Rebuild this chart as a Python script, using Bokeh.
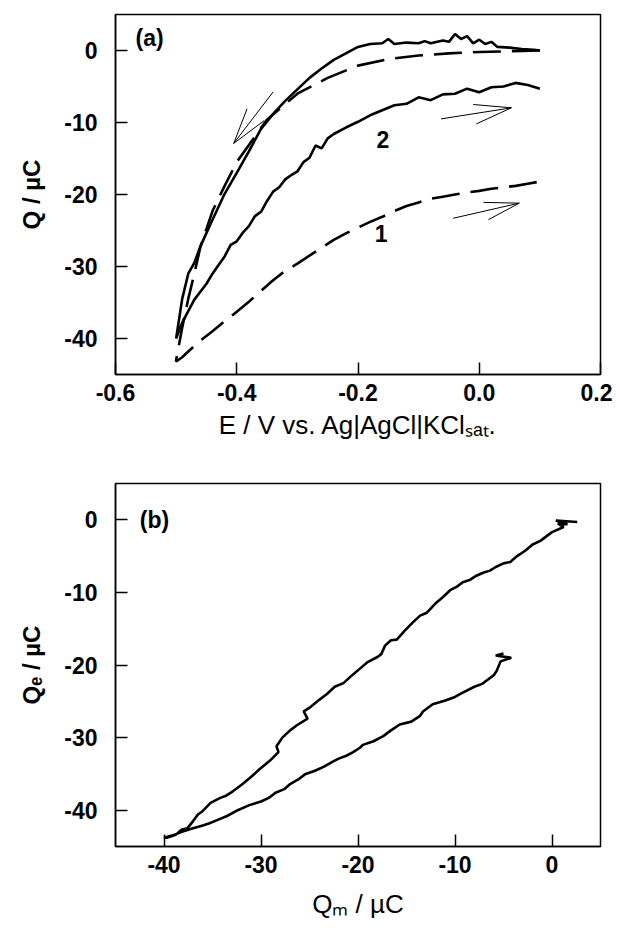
from bokeh.plotting import figure
from bokeh.layouts import column
from bokeh.models import Label, FixedTicker
from bokeh.embed import file_html
from bokeh.resources import INLINE

# ---------------- Panel (a) data: Q vs E ----------------
# solid loop, cathodic scan (0.1 -> -0.5 V)
E_solid_down = [0.10, 0.09, 0.07, 0.05, 0.03, 0.02, 0.01, 0.00, -0.01, -0.02, -0.03, -0.04,
                -0.05, -0.06, -0.08, -0.09, -0.10, -0.12, -0.14, -0.15, -0.16, -0.18, -0.20,
                -0.22, -0.24, -0.26, -0.28, -0.30, -0.32, -0.34, -0.36, -0.38, -0.40, -0.42,
                -0.44, -0.46, -0.47, -0.48, -0.49, -0.50]
Q_solid_down = [0.0, 0.1, 0.2, 0.4, 0.5, 1.2, 0.9, 1.5, 1.0, 2.0, 1.6, 2.3,
                1.2, 1.4, 1.0, 1.3, 1.0, 1.1, 0.9, 1.6, 1.0, 0.9, 0.5,
                -0.4, -1.3, -2.5, -3.8, -5.4, -7.0, -8.8, -10.9, -14.0, -17.0, -19.9,
                -23.5, -27.2, -29.5, -31.0, -34.5, -40.0]
# solid curve 2, anodic scan (-0.5 -> 0.1 V)
E_solid_up = [-0.50, -0.49, -0.48, -0.47, -0.46, -0.45, -0.44, -0.43, -0.42, -0.41, -0.40,
              -0.39, -0.38, -0.37, -0.36, -0.35, -0.34, -0.33, -0.32, -0.31, -0.30, -0.29,
              -0.28, -0.27, -0.26, -0.25, -0.24, -0.22, -0.20, -0.18, -0.16, -0.14, -0.12,
              -0.10, -0.08, -0.06, -0.04, -0.02, 0.00, 0.02, 0.04, 0.06, 0.08, 0.10]
Q_solid_up = [-40.0, -37.8, -36.2, -34.6, -33.5, -32.4, -31.0, -29.8, -28.6, -27.0, -26.5,
              -25.3, -24.4, -23.0, -22.4, -20.9, -19.6, -19.0, -17.9, -17.3, -16.8, -15.5,
              -14.9, -13.2, -13.6, -12.2, -11.6, -10.7, -9.9, -9.0, -8.3, -7.6, -7.4,
              -6.5, -6.9, -6.1, -6.0, -5.3, -5.8, -5.1, -5.0, -4.5, -4.8, -5.3]
# dashed loop, cathodic scan
E_dash_down = [0.10, 0.05, 0.00, -0.05, -0.10, -0.15, -0.20, -0.25, -0.30, -0.35, -0.40,
               -0.42, -0.44, -0.46, -0.47, -0.48, -0.49, -0.50]
Q_dash_down = [0.0, -0.1, -0.2, -0.4, -0.7, -1.2, -2.1, -3.8, -6.0, -9.6, -15.5,
               -18.8, -22.3, -27.3, -31.0, -34.5, -38.5, -43.0]
# dashed curve 1, anodic scan
E_dash_up = [-0.50, -0.49, -0.48, -0.46, -0.44, -0.42, -0.40, -0.38, -0.36, -0.34, -0.32,
             -0.30, -0.28, -0.26, -0.24, -0.22, -0.20, -0.18, -0.16, -0.14, -0.12, -0.10,
             -0.08, -0.06, -0.04, -0.02, 0.00, 0.02, 0.04, 0.06, 0.08, 0.10]
Q_dash_up = [-43.2, -42.6, -41.8, -40.3, -39.0, -37.6, -36.3, -34.9, -33.4, -31.9, -30.6,
             -29.6, -28.5, -27.4, -26.3, -25.4, -24.6, -23.8, -23.1, -22.3, -21.6, -21.1,
             -20.6, -20.3, -20.0, -19.7, -19.5, -19.2, -19.0, -18.8, -18.5, -18.2]

# scan-direction arrows (E, Q)
arrow_tail_E = [-0.340, -0.063, -0.043]
arrow_tail_Q = [-5.75, -9.5, -23.3]
arrow_tip_E = [-0.405, 0.053, 0.066]
arrow_tip_Q = [-12.9, -7.96, -21.2]
arrow_head1_E = [-0.383, -0.010, 0.007]
arrow_head1_Q = [-8.1, -7.5, -21.1]
arrow_head2_E = [-0.355, -0.005, 0.015]
arrow_head2_Q = [-9.75, -10.2, -23.5]

curve_label_text = ["1", "2"]
curve_label_E = [-0.162, -0.159]
curve_label_Q = [-25.4, -12.3]
panel_a_label = "(a)"
panel_a_label_pos = (-0.567, 1.7)

a_xticks = [-0.6, -0.4, -0.2, 0.0, 0.2]
a_xtick_labels = ["-0.6", "-0.4", "-0.2", "0.0", "0.2"]
a_yticks = [0, -10, -20, -30, -40]
a_ytick_labels = ["0", "-10", "-20", "-30", "-40"]
a_xtitle = "E / V vs. Ag|AgCl|KCl\u209b\u2090\u209c."
a_ytitle = "Q / µC"

# ---------------- Panel (b) data: Qe vs Qm ----------------
Qm_cath = [2.6, 0.4, 1.6, 0.6, 1.2, 0.0, -1.2, -2.0, -2.8, -3.6, -4.3, -5.0, -5.8, -6.4, -7.1,
           -7.8, -8.5, -9.2, -9.8, -10.5, -11.2, -12.0, -12.9, -13.6, -14.4, -15.2, -16.0,
           -16.6, -17.2, -17.6, -18.0, -19.0, -19.8, -20.6, -21.5, -22.4, -23.2, -24.0, -24.9,
           -25.6, -25.2, -26.3, -27.0, -27.8, -28.4, -28.2, -29.1, -30.1, -31.0, -32.0, -32.9,
           -33.6, -34.2, -35.2, -36.0, -36.5, -37.0, -37.6, -38.2, -38.8, -39.7, -40.0]
Qe_cath = [-0.3, -0.1, -0.6, -0.5, -1.0, -1.7, -2.9, -3.4, -4.3, -5.0, -5.8, -6.0, -6.5, -7.0, -7.3,
           -7.7, -8.3, -8.6, -9.2, -9.7, -10.6, -11.5, -12.8, -13.2, -14.2, -15.3, -16.5,
           -16.6, -17.3, -18.5, -18.9, -19.6, -20.5, -21.4, -22.5, -23.0, -24.0, -24.8, -25.8,
           -26.4, -27.4, -28.3, -29.0, -30.0, -31.2, -32.0, -33.2, -34.3, -35.4, -36.5, -37.4,
           -38.0, -38.3, -39.0, -40.1, -40.6, -41.5, -42.5, -42.7, -43.4, -43.8, -43.8]
Qm_anod = [-40.0, -39.0, -38.0, -37.0, -36.0, -35.3, -34.4, -33.5, -32.4, -31.2, -30.0, -29.2,
           -28.5, -27.6, -27.0, -26.2, -25.4, -24.5, -23.5, -22.6, -22.0, -21.2, -20.5, -19.8,
           -19.5, -18.4, -17.4, -16.6, -15.7, -14.5, -13.6, -13.3, -12.3, -11.0, -10.0, -9.5,
           -8.0, -7.2, -6.7, -6.0, -5.7, -5.3, -4.2, -5.8, -5.0]
Qe_anod = [-43.8, -43.4, -42.9, -42.5, -42.1, -41.8, -41.3, -40.8, -40.0, -39.3, -38.8, -38.3,
           -37.6, -37.1, -36.4, -35.8, -35.0, -34.6, -34.0, -33.3, -32.9, -32.5, -32.0, -31.4,
           -31.0, -30.5, -29.8, -29.0, -28.2, -27.8, -27.0, -26.4, -25.4, -24.9, -24.4, -24.0,
           -23.0, -22.6, -22.1, -21.4, -20.8, -19.5, -19.0, -18.7, -18.4]
panel_b_label = "(b)"
panel_b_label_pos = (-42.5, 0.0)

b_xticks = [-40, -30, -20, -10, 0]
b_xtick_labels = ["-40", "-30", "-20", "-10", "0"]
b_yticks = [0, -10, -20, -30, -40]
b_ytick_labels = ["0", "-10", "-20", "-30", "-40"]
b_xtitle = "Q\u2098 / µC"
b_ytitle = "Q\u2091 / µC"

# ---------------- styling ----------------
FONT = "Liberation Sans"
W = 612
L_BORDER, R_BORDER = 115, 12


def style(p, xticks, xlabels, yticks, ylabels, xtitle, ytitle, xtitle_standoff):
    p.xgrid.visible = False
    p.ygrid.visible = False
    p.outline_line_color = "black"
    p.outline_line_width = 1.5
    p.background_fill_color = "white"
    p.border_fill_color = "white"
    p.xaxis.ticker = FixedTicker(ticks=xticks)
    p.yaxis.ticker = FixedTicker(ticks=yticks)
    p.xaxis.major_label_overrides = {t: l for t, l in zip(xticks, xlabels)}
    p.yaxis.major_label_overrides = {t: l for t, l in zip(yticks, ylabels)}
    for ax in (p.xaxis[0], p.yaxis[0]):
        ax.major_tick_in = 12
        ax.major_tick_out = 0
        ax.minor_tick_in = 0
        ax.minor_tick_out = 0
        ax.axis_line_width = 1.5
        ax.major_tick_line_width = 1.5
        ax.major_label_text_font = FONT
        ax.major_label_text_font_style = "bold"
        ax.major_label_text_font_size = "23px"
        ax.major_label_text_color = "black"
        ax.axis_label_text_font = FONT
        ax.axis_label_text_color = "black"
    p.xaxis.major_label_standoff = 9
    p.yaxis.major_label_standoff = 18
    p.xaxis.axis_label = xtitle
    p.xaxis.axis_label_text_font_size = "26px"
    p.xaxis.axis_label_text_font_style = "normal"
    p.xaxis.axis_label_standoff = xtitle_standoff
    p.yaxis.axis_label = ytitle
    p.yaxis.axis_label_text_font_size = "24px"
    p.yaxis.axis_label_text_font_style = "bold"
    p.yaxis.axis_label_standoff = 16


def lab(p, x, y, text, size, style_="bold", align="left", baseline="middle"):
    p.add_layout(Label(x=x, y=y, text=text, text_font=FONT, text_font_size=f"{size}px",
                       text_font_style=style_, text_align=align, text_baseline=baseline,
                       text_color="black"))


# ---------------- Panel (a) ----------------
H1, T1, FH1 = 470, 14, 360
pa = figure(width=W, height=H1, x_range=(-0.6, 0.2), y_range=(-45, 5),
            output_backend="svg", toolbar_location=None,
            min_border_left=L_BORDER, min_border_right=R_BORDER,
            min_border_top=T1, min_border_bottom=H1 - T1 - FH1)
style(pa, a_xticks, a_xtick_labels, a_yticks, a_ytick_labels, a_xtitle, a_ytitle, 6)

pa.line(E_solid_down + E_solid_up, Q_solid_down + Q_solid_up, line_color="black", line_width=2.6)
pa.line(E_dash_down + E_dash_up, Q_dash_down + Q_dash_up, line_color="black", line_width=2.6,
        line_dash="28 11")
pa.segment(arrow_tail_E, arrow_tail_Q, arrow_tip_E, arrow_tip_Q, line_color="black", line_width=1)
pa.segment(arrow_tip_E, arrow_tip_Q, arrow_head1_E, arrow_head1_Q, line_color="black", line_width=1)
pa.segment(arrow_tip_E, arrow_tip_Q, arrow_head2_E, arrow_head2_Q, line_color="black", line_width=1)
for t, e, q in zip(curve_label_text, curve_label_E, curve_label_Q):
    lab(pa, e, q, t, 23, "bold", "center", "middle")
lab(pa, panel_a_label_pos[0], panel_a_label_pos[1], panel_a_label, 23)

# ---------------- Panel (b) ----------------
H2, T2, FH2 = 455, 13, 363
pb = figure(width=W, height=H2, x_range=(-45, 5), y_range=(-45, 5),
            output_backend="svg", toolbar_location=None,
            min_border_left=L_BORDER, min_border_right=R_BORDER,
            min_border_top=T2, min_border_bottom=H2 - T2 - FH2)
style(pb, b_xticks, b_xtick_labels, b_yticks, b_ytick_labels, b_xtitle, b_ytitle, 13)
pb.line(Qm_cath + Qm_anod, Qe_cath + Qe_anod, line_color="black", line_width=2.6)
lab(pb, panel_b_label_pos[0], panel_b_label_pos[1], panel_b_label, 23)

layout = column(pa, pb, spacing=0)
open("out.html", "w").write(file_html(layout, INLINE))
